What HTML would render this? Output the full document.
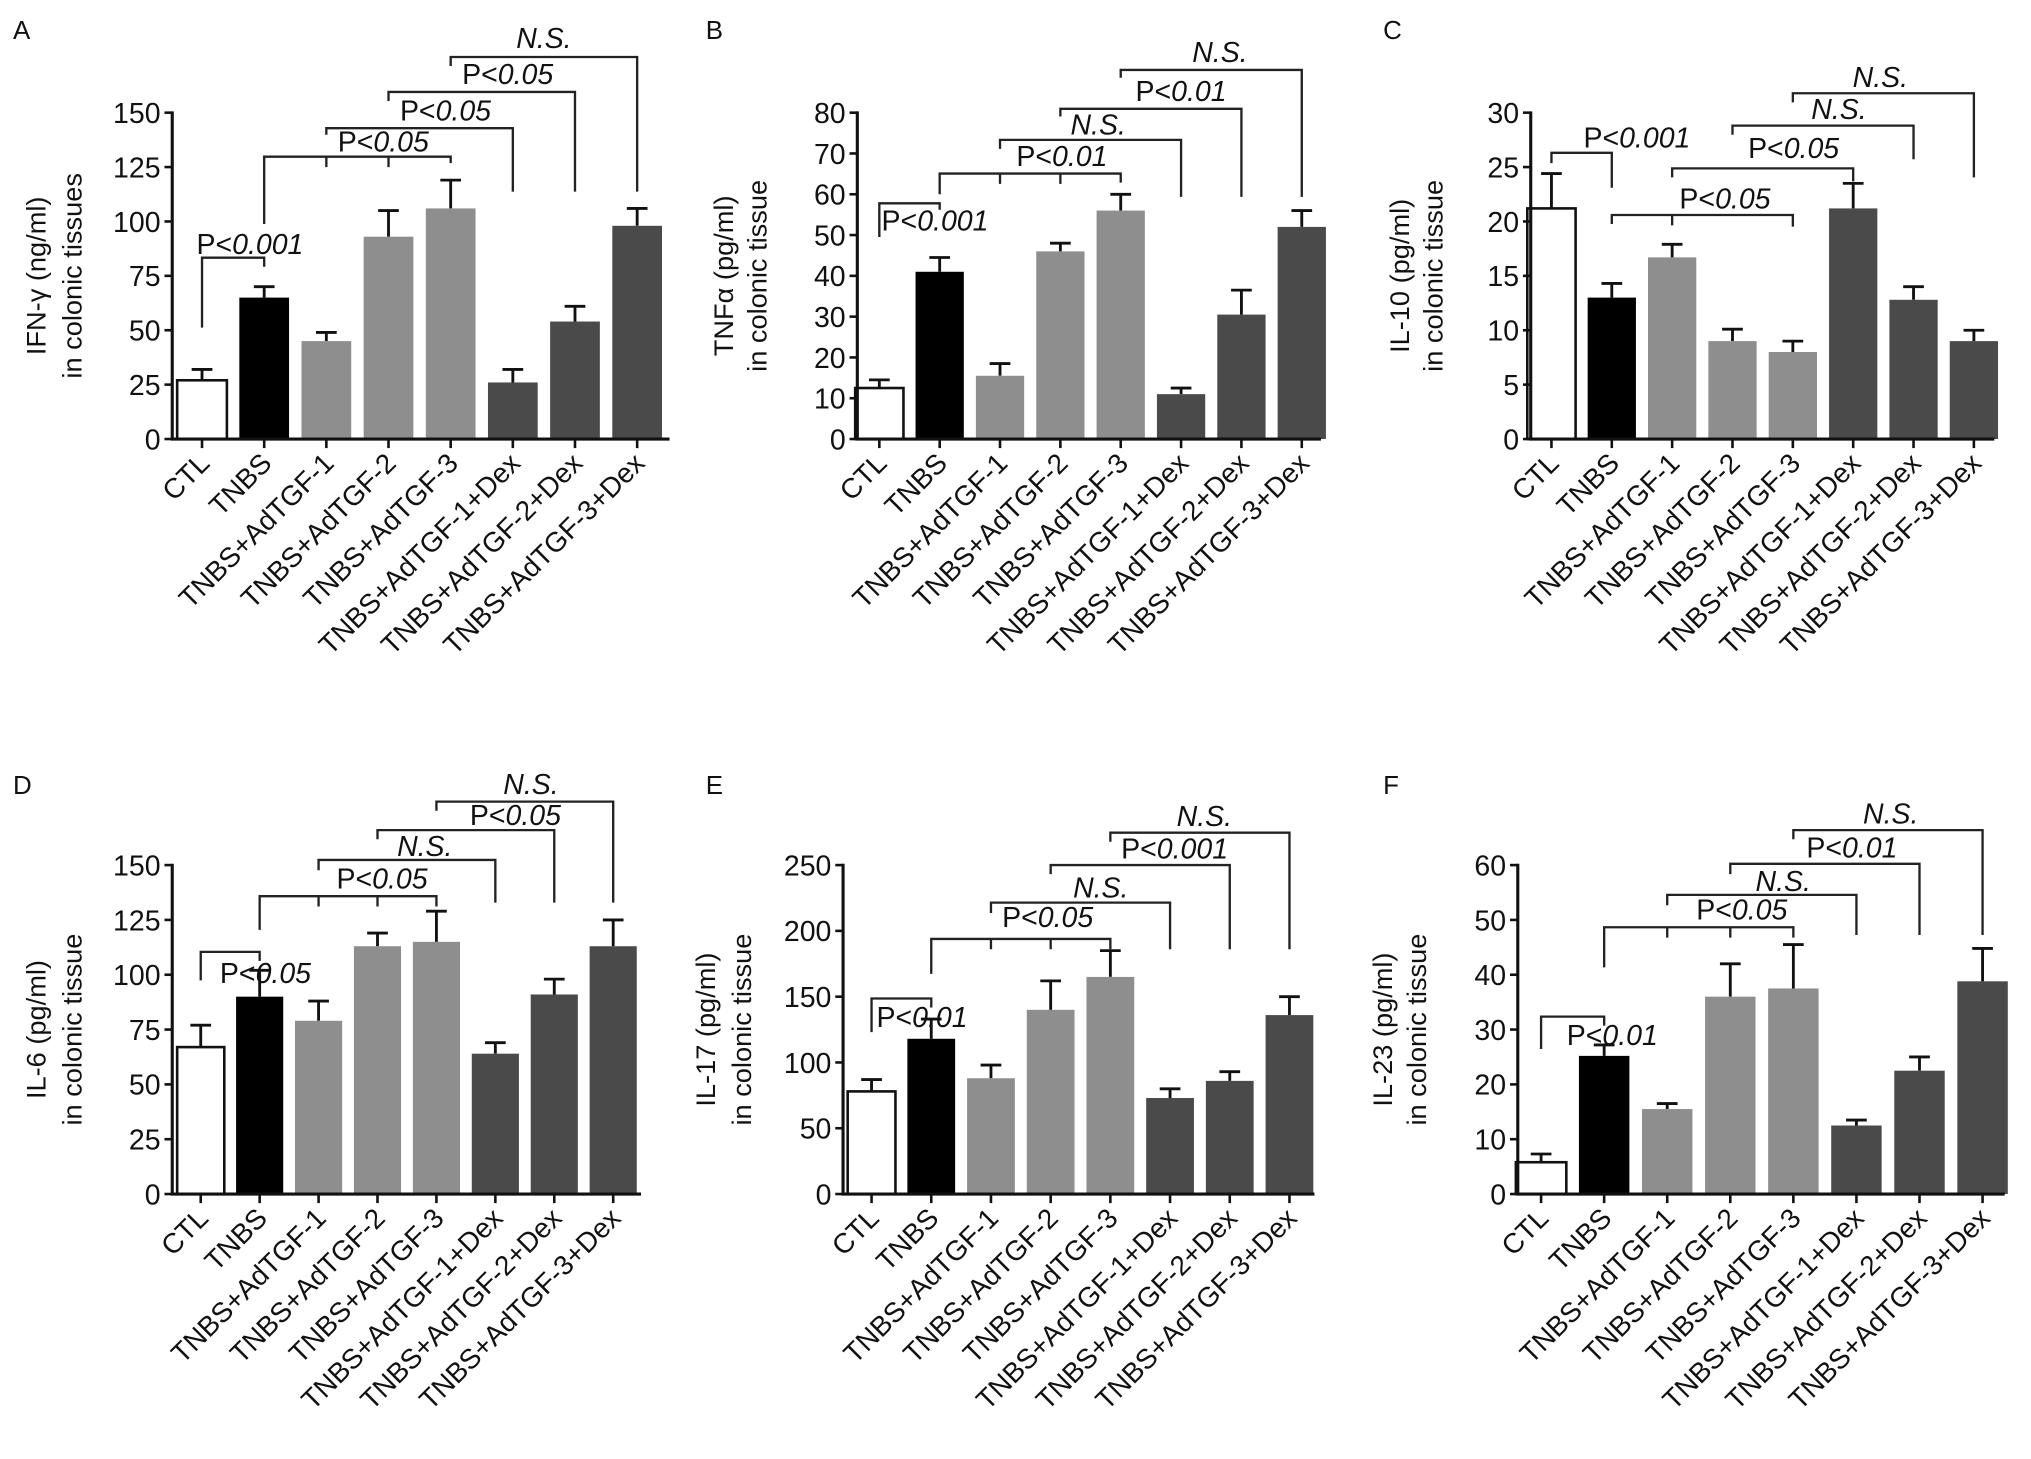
<!DOCTYPE html>
<html><head><meta charset="utf-8"><style>
html,body{margin:0;padding:0;background:#fff}
svg{display:block}
text{font-family:"Liberation Sans",sans-serif;fill:#111}
</style></head><body>
<svg id="fig" width="2031" height="1459" viewBox="0 0 1568.3 1126.6" xmlns="http://www.w3.org/2000/svg"></svg>
<script>
const categories = ["CTL","TNBS","TNBS+AdTGF-1","TNBS+AdTGF-2","TNBS+AdTGF-3","TNBS+AdTGF-1+Dex","TNBS+AdTGF-2+Dex","TNBS+AdTGF-3+Dex"];
const valuesA = [27,65,45,93,106,26,54,98];
const errorsA = [5,5,4,12,13,6,7,8];
const valuesB = [12.5,41,15.5,46,56,11,30.5,52];
const errorsB = [2,3.5,3,2,4,1.5,6,4];
const valuesC = [21.2,13,16.7,9,8,21.2,12.8,9];
const errorsC = [3.2,1.3,1.2,1.1,1,2.3,1.2,1];
const valuesD = [67,90,79,113,115,64,91,113];
const errorsD = [10,12,9,6,14,5,7,12];
const valuesE = [78,118,88,140,165,73,86,136];
const errorsE = [9,15,10,22,20,7,7,14];
const valuesF = [5.8,25.2,15.5,36,37.5,12.5,22.5,38.8];
const errorsF = [1.5,2,1,6,8,1,2.5,6];
const ticksA = [0,25,50,75,100,125,150];
const ticksB = [0,10,20,30,40,50,60,70,80];
const ticksC = [0,5,10,15,20,25,30];
const ticksD = [0,25,50,75,100,125,150];
const ticksE = [0,50,100,150,200,250];
const ticksF = [0,10,20,30,40,50,60];

const colors = ["#fff","#000","#8e8e8e","#8e8e8e","#8e8e8e","#4a4a4a","#4a4a4a","#4a4a4a"];
const NS = "http://www.w3.org/2000/svg";
const svg = document.getElementById('fig');
function mk(tag, attrs, parent){ const e=document.createElementNS(NS,tag); for(const k in attrs) e.setAttribute(k,attrs[k]); (parent||svg).appendChild(e); return e; }

const panels = [
 {id:'a',letter:'A',lx:10,vals:valuesA,errs:errorsA,ticks:ticksA,ax:133,y0:339,yt:87,x0:156,pitch:48,end:517,lab1:'IFN-γ (ng/ml)',lab2:'in colonic tissues',yl1:27,yl2:55,
  br:[[0,1,199,253,206,'P<','0.001',193,196],[1,4,121,173,126,'P<','0.05',296,117,[2,3]],[2,5,99,104,148,'P<','0.05',344,93],[3,6,71,78,148,'P<','0.05',392,65],[4,7,44,51,148,'','N.S.',420,37]]},
 {id:'b',letter:'B',lx:545,vals:valuesB,errs:errorsB,ticks:ticksB,ax:662,y0:339,yt:87,x0:679,pitch:46.6,end:1020,lab1:'TNFα (pg/ml)',lab2:'in colonic tissue',yl1:558,yl2:584,
  br:[[0,1,157,183,162,'P<','0.001',722,178],[1,4,134,150,141,'P<','0.01',820,128,[2,3]],[2,5,108,115,152,'','N.S.',848,104],[3,6,84,90,152,'P<','0.01',912,78],[4,7,54,60,152,'','N.S.',942,48]]},
 {id:'c',letter:'C',lx:1068,vals:valuesC,errs:errorsC,ticks:ticksC,ax:1182,y0:339,yt:87,x0:1198,pitch:46.6,end:1540,lab1:'IL-10 (pg/ml)',lab2:'in colonic tissue',yl1:1080,yl2:1106,
  br:[[0,1,118,126,145,'P<','0.001',1264,114],[1,4,166,173,175,'P<','0.05',1332,161,[2]],[2,5,130,137,140,'P<','0.05',1385,122],[3,6,97,104,123,'','N.S.',1420,92],[4,7,72,79,137,'','N.S.',1452,67]]},
 {id:'d',letter:'D',lx:10,vals:valuesD,errs:errorsD,ticks:ticksD,ax:133,y0:922,yt:668,x0:155,pitch:45.5,end:495,lab1:'IL-6 (pg/ml)',lab2:'in colonic tissue',yl1:27,yl2:55,
  br:[[0,1,735,757,742,'P<','0.05',205,759],[1,4,692,718,700,'P<','0.05',295,686,[2,3]],[2,5,664,672,697,'','N.S.',328,661],[3,6,641,648,697,'P<','0.05',398,637],[4,7,619,626,697,'','N.S.',410,613]]},
 {id:'e',letter:'E',lx:545,vals:valuesE,errs:errorsE,ticks:ticksE,ax:651,y0:922,yt:668,x0:673,pitch:46.1,end:1015,lab1:'IL-17 (pg/ml)',lab2:'in colonic tissue',yl1:544,yl2:572,
  br:[[0,1,771,797,778,'P<','0.01',712,793],[1,4,725,752,733,'P<','0.05',809,716,[2,3]],[2,5,697,705,733,'','N.S.',850,693],[3,6,668,675,733,'P<','0.001',907,663],[4,7,643,650,733,'','N.S.',930,638]]},
 {id:'f',letter:'F',lx:1068,vals:valuesF,errs:errorsF,ticks:ticksF,ax:1172,y0:922,yt:668,x0:1190,pitch:48.7,end:1548,lab1:'IL-23 (pg/ml)',lab2:'in colonic tissue',yl1:1067,yl2:1093,
  br:[[0,1,785,810,792,'P<','0.01',1245,807],[1,4,716,747,724,'P<','0.05',1345,710,[2,3]],[2,5,691,699,722,'','N.S.',1377,688],[3,6,667,675,722,'P<','0.01',1430,662],[4,7,641,648,722,'','N.S.',1460,636]]}
];

panels.forEach(p=>{
  const g = mk('g',{});
  
  
  const yMax = p.ticks[p.ticks.length-1];
  const ys = v => p.y0 - (v/yMax)*(p.y0-p.yt);
  const xs = i => p.x0 + i*p.pitch;
  const bw = p.pitch*0.8;
  const letter = mk('text',{x:p.lx,y:p.y0<400?30:613,'font-size':20},g); letter.textContent=p.letter;
  
  
  p.vals.forEach((v,i)=>{
    const e = p.errs[i];
    const top = ys(v);
    const eb = mk('path',{d:`M${xs(i)} ${top} V${ys(v+e)} M${xs(i)-8} ${ys(v+e)} H${xs(i)+8}`,stroke:'#111','stroke-width':2.2,fill:'none'},g);
    
    
    const r = mk('rect',{x:xs(i)-bw/2,y:top,width:bw,height:p.y0-top,fill:colors[i],stroke:i===0?'#111':'none','stroke-width':2},g);
    
    
  });
  const ax = mk('path',{d:`M${p.ax} ${p.yt-1} V${p.y0} H${p.end}`,stroke:'#111','stroke-width':2.4,fill:'none'},g);
  
  
  p.ticks.forEach(t=>{
    mk('line',{x1:p.ax-6,x2:p.ax,y1:ys(t),y2:ys(t),stroke:'#111','stroke-width':2},g);
    const tl = mk('text',{x:p.ax-9,y:ys(t)+8,'text-anchor':'end','font-size':22},g); tl.textContent=t;
    
    
  });
  categories.forEach((c,i)=>{
    mk('line',{x1:xs(i),x2:xs(i),y1:p.y0,y2:p.y0+7,stroke:'#111','stroke-width':2},g);
    const tx = xs(i)+7, ty = p.y0+20;
    const xl = mk('text',{x:tx,y:ty,'text-anchor':'end','font-size':21.5,transform:`rotate(-45 ${tx} ${ty})`},g); xl.textContent=c;
    
    
  });
  const cy = (p.y0+p.yt)/2;
  [[p.lab1,p.yl1],[p.lab2,p.yl2]].forEach(([t,x])=>{
    const yl = mk('text',{x:x+8,y:cy,'text-anchor':'middle','font-size':21,transform:`rotate(-90 ${x+8} ${cy})`},g); yl.textContent=t;
    
    
  });
  p.br.forEach(b=>{
    const [i,j,top,ld,rd,pre,num,lx,ly,mids]=b;
    let d = `M${xs(i)} ${ld} V${top} H${xs(j)} V${rd}`;
    (mids||[]).forEach(m=>{ d += ` M${xs(m)} ${top} V${top+8}`; });
    const br = mk('path',{d,stroke:'#222','stroke-width':1.8,fill:'none'},g);
    
    
    const t = mk('text',{x:lx,y:ly,'text-anchor':'middle','font-size':22},g);
    
    
    if(pre){ const s1=mk('tspan',{},t); s1.textContent=pre; }
    const s2=mk('tspan',{'font-style':'italic'},t); s2.textContent=num;
  });
});
</script>
</body></html>
